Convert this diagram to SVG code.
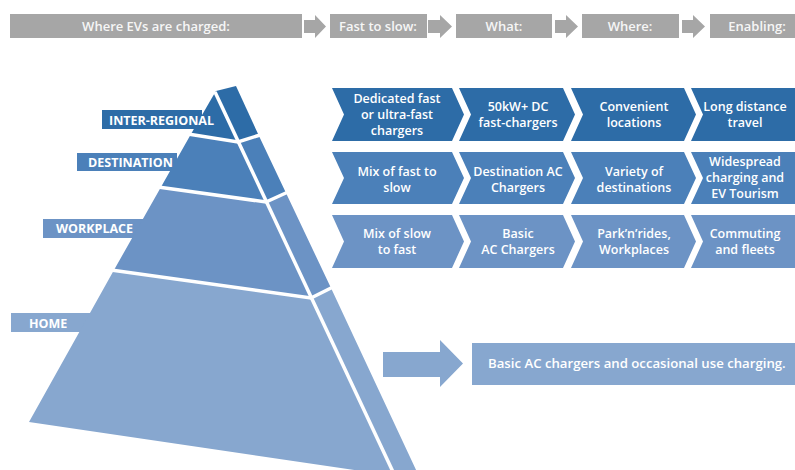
<svg xmlns="http://www.w3.org/2000/svg" width="795" height="470" viewBox="0 0 795 470">
<style>
.hdr{fill:#a6a6a6}
.hdrt{fill:#f6f6f6;font-family:"Open Sans","Liberation Sans",sans-serif;font-size:13px;font-weight:600;text-anchor:middle}
.harr{fill:#a6a6a6}
.lbl{fill:#ffffff;font-family:"Open Sans","Liberation Sans",sans-serif;font-size:12.5px;font-weight:700}
.ct{fill:#ffffff;font-family:"Open Sans","Liberation Sans",sans-serif;font-size:12.5px;font-weight:600;text-anchor:middle}
.sep{stroke:#ffffff;stroke-width:3.5;fill:none;stroke-linecap:butt}
.c1{fill:#2d6ca7}
.c2{fill:#4b80b9}
.c3{fill:#6c93c5}
.c4{fill:#87a7cf}
</style>

<g id="header">
  <g id="h1"><rect class="hdr" x="10" y="14" width="292" height="24"/><text class="hdrt" x="156" y="31">Where EVs are charged:</text></g>
  <g id="h2"><rect class="hdr" x="330" y="14" width="97" height="24"/><text class="hdrt" x="378" y="31">Fast to slow:</text></g>
  <g id="h3"><rect class="hdr" x="456" y="14" width="96" height="24"/><text class="hdrt" x="504" y="31">What:</text></g>
  <g id="h4"><rect class="hdr" x="582" y="14" width="97" height="24"/><text class="hdrt" x="630" y="31">Where:</text></g>
  <g id="h5"><rect class="hdr" x="710" y="14" width="85" height="24"/><text class="hdrt" x="757" y="31">Enabling:</text></g>
</g>

<g id="connectors">
  <polygon class="harr" points="304,20 315,20 315,15 326,26.5 315,38 315,33 304,33"/>
  <polygon class="harr" points="428,20 440,20 440,15 452,26.5 440,38 440,33 428,33"/>
  <polygon class="harr" points="555,20 566,20 566,15 578,26.5 566,38 566,33 555,33"/>
  <polygon class="harr" points="682,20 693,20 693,15 705,26.5 693,38 693,33 682,33"/>
  <polygon class="c4" points="383,352 440,352 440,340 463,363.5 440,387 440,377 383,377"/>
</g>

<g id="pyramid">
  <g id="tier-interregional">
    <rect class="c1" x="102" y="110" width="100" height="19"/>
    <polygon class="c1" points="213,96 216,91 236,86 259,136 238,142 191,134"/>
    <text class="lbl" x="109" y="125">INTER-REGIONAL</text>
  </g>
  <g id="tier-destination">
    <rect class="c2" x="77" y="153" width="100" height="18"/>
    <polygon class="c2" points="191,134 238,142 259,136 286,193 266,202 161,187"/>
    <text class="lbl" x="88" y="167">DESTINATION</text>
  </g>
  <g id="tier-workplace">
    <rect class="c3" x="43" y="219" width="100" height="19"/>
    <polygon class="c3" points="161,187 266,202 286,193 331,288 311,298 114,270"/>
    <text class="lbl" x="56" y="233">WORKPLACE</text>
  </g>
  <g id="tier-home">
    <rect class="c4" x="11" y="313" width="90" height="19"/>
    <polygon class="c4" points="114,270 311,298 331,288 417,472 395,476 29,422"/>
    <text class="lbl" x="29" y="328">HOME</text>
  </g>
  <g id="pyramid-lines">
    <line class="sep" x1="215" y1="92" x2="394" y2="474"/>
    <polyline class="sep" points="188,134 238,142 260,135"/>
    <polyline class="sep" points="158,187 266,202 288,192"/>
    <polyline class="sep" points="111,270 311,298 333,287"/>
  </g>
</g>

<g id="row1">
  <g id="r1c1"><path class="c1" d="M332,88 L452,88 L464,114.5 L452,141 L332,141 L344,114.5 Z"/>
    <text class="ct" x="397" y="103">Dedicated fast</text><text class="ct" x="397" y="119">or ultra-fast</text><text class="ct" x="397" y="135">chargers</text></g>
  <g id="r1c2"><path class="c1" d="M459,88 L563,88 L575,114.5 L563,141 L459,141 L471,114.5 Z"/>
    <text class="ct" x="518" y="111">50kW+ DC</text><text class="ct" x="518" y="127">fast-chargers</text></g>
  <g id="r1c3"><path class="c1" d="M571,88 L684,88 L696,114.5 L684,141 L571,141 L583,114.5 Z"/>
    <text class="ct" x="634" y="111">Convenient</text><text class="ct" x="634" y="127">locations</text></g>
  <g id="r1c4"><path class="c1" d="M691,88 L800,88 L800,141 L691,141 L703,114.5 Z"/>
    <text class="ct" x="745" y="111">Long distance</text><text class="ct" x="745" y="127">travel</text></g>
</g>

<g id="row2">
  <g id="r2c1"><path class="c2" d="M332,152 L452,152 L464,178 L452,204 L332,204 L344,178 Z"/>
    <text class="ct" x="397" y="176">Mix of fast to</text><text class="ct" x="397" y="192">slow</text></g>
  <g id="r2c2"><path class="c2" d="M459,152 L563,152 L575,178 L563,204 L459,204 L471,178 Z"/>
    <text class="ct" x="518" y="176">Destination AC</text><text class="ct" x="518" y="192">Chargers</text></g>
  <g id="r2c3"><path class="c2" d="M571,152 L684,152 L696,178 L684,204 L571,204 L583,178 Z"/>
    <text class="ct" x="634" y="176">Variety of</text><text class="ct" x="634" y="192">destinations</text></g>
  <g id="r2c4"><path class="c2" d="M691,152 L800,152 L800,204 L691,204 L703,178 Z"/>
    <text class="ct" x="745" y="166">Widespread</text><text class="ct" x="745" y="182">charging and</text><text class="ct" x="745" y="198">EV Tourism</text></g>
</g>

<g id="row3">
  <g id="r3c1"><path class="c3" d="M332,215 L452,215 L464,241.5 L452,268 L332,268 L344,241.5 Z"/>
    <text class="ct" x="397" y="238">Mix of slow</text><text class="ct" x="397" y="254">to fast</text></g>
  <g id="r3c2"><path class="c3" d="M459,215 L563,215 L575,241.5 L563,268 L459,268 L471,241.5 Z"/>
    <text class="ct" x="518" y="238">Basic</text><text class="ct" x="518" y="254">AC Chargers</text></g>
  <g id="r3c3"><path class="c3" d="M571,215 L684,215 L696,241.5 L684,268 L571,268 L583,241.5 Z"/>
    <text class="ct" x="634" y="238">Park’n’rides,</text><text class="ct" x="634" y="254">Workplaces</text></g>
  <g id="r3c4"><path class="c3" d="M691,215 L800,215 L800,268 L691,268 L703,241.5 Z"/>
    <text class="ct" x="745" y="238">Commuting</text><text class="ct" x="745" y="254">and fleets</text></g>
</g>

<g id="home-box">
  <rect class="c4" x="472" y="343" width="323" height="42"/>
  <text class="ct" x="488" y="368" style="text-anchor:start;font-size:13.2px">Basic AC chargers and occasional use charging.</text>
</g>
</svg>
